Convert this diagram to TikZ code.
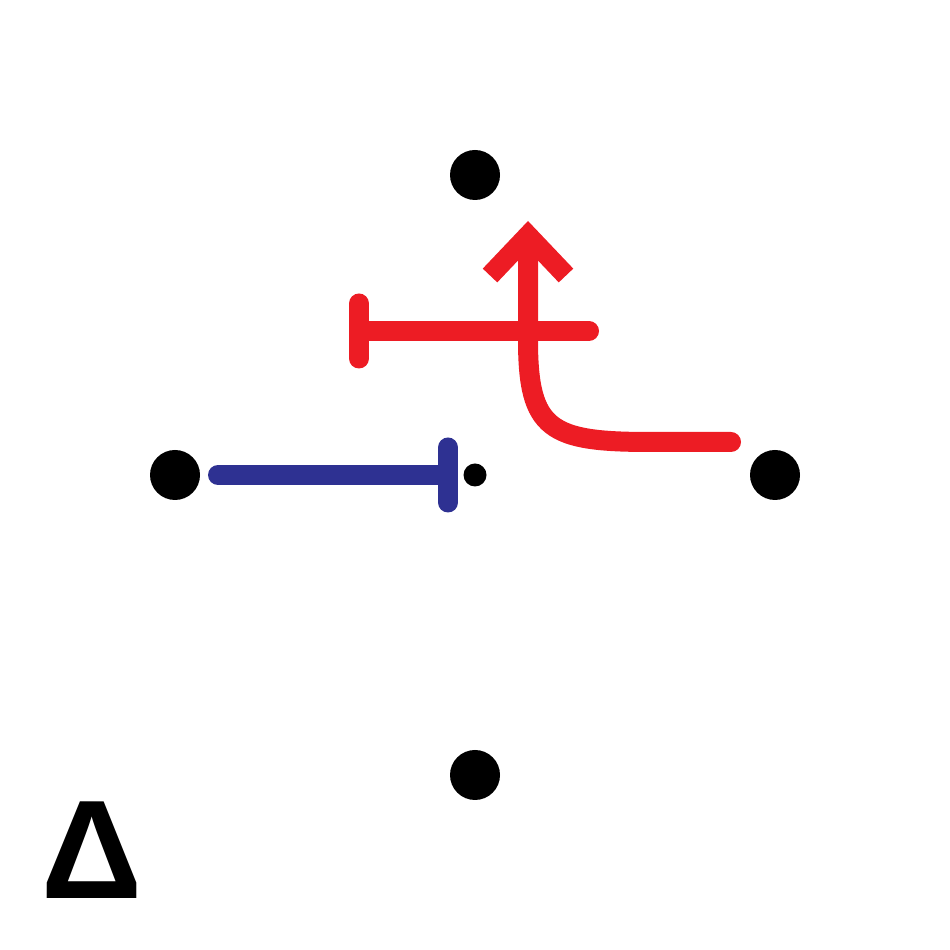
\documentclass[tikz,border=0pt]{standalone}
\usepackage{fontspec}
\newfontfamily\deltafont{Liberation Sans}
\usepackage{tikz}
\usetikzlibrary{arrows.meta}
\usepackage{tkz-euclide}

\definecolor{actred}{HTML}{ED1C24}
\definecolor{inhblue}{HTML}{2E3192}

\begin{document}
\begin{tikzpicture}[
    dot/.style={circle, fill=black, inner sep=0pt, minimum size=5mm},
    smalldot/.style={circle, fill=black, inner sep=0pt, minimum size=2.3mm},
    link/.style={line width=2mm, line cap=round}]
      \useasboundingbox (0,0) rectangle (9.5,9.5);
      % 1. 四個頂點與中心點
      \node[dot] (T) at (4.75,7.75) {};
      \node[dot] (L) at (1.75,4.75) {};
      \node[dot] (R) at (7.75,4.75) {};
      \node[dot] (D) at (4.75,1.75) {};
      \node[smalldot] (O) at (4.75,4.75) {};

      % 2. 各條線的端點
      \tkzDefPoint(2.18,4.75){B_1}
      \tkzDefPoint(4.58,4.75){B_2}
      \tkzDefPoint(5.89,6.19){H_1}
      \tkzDefPoint(3.49,6.19){H_2}
      \tkzDefPoint(7.31,5.08){C_1}
      \tkzDefPoint(5.28,7.29){C_2}

      % 3. 藍色抑制線
      \draw[link, inhblue, -{Bar[width=5.5mm, round]}] (B_1) -- (B_2);
      % 4. 紅色抑制線與彎曲箭頭
      \draw[link, actred, -{Bar[width=5.5mm, round]}] (H_1) -- (H_2);
      \draw[link, actred, -{Straight Barb[length=4mm, width=7.6mm]}] (C_1) -- (6.5,5.08)
        .. controls (5.5,5.08) and (5.28,5.2) .. (5.28,6.1) -- (C_2);

      % 5. 左下角的 Delta
      \node[font=\deltafont\bfseries\fontsize{40}{40}\selectfont] (Dl) at (0.92,1.0) {Δ};
\end{tikzpicture}
\end{document}
